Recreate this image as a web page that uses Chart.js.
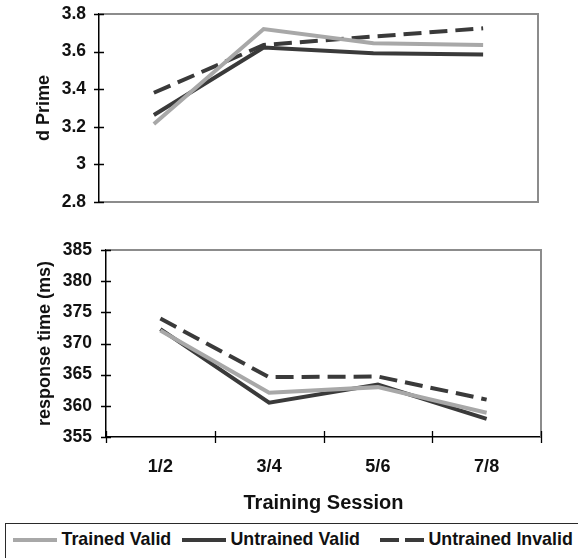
<!DOCTYPE html>
<html>
<head>
<meta charset="utf-8">
<script src="https://cdn.jsdelivr.net/npm/chart.js@4.4.1/dist/chart.umd.min.js"></script>
<style>
  html, body { margin: 0; padding: 0; background: #fff; }
  body { width: 578px; height: 558px; position: relative; overflow: hidden; font-family: "Liberation Sans", Arial, sans-serif; }
  #c1 { position: absolute; left: 0; top: 0; }
  #c2 { position: absolute; left: 0; top: 225px; }
  #legend { position: absolute; left: 5px; top: 523px; width: 590px; height: 45px; border: 1.5px solid #2a2a2a; box-sizing: border-box; }
  .item { position: absolute; top: 0; height: 31px; display: flex; align-items: center; font-weight: bold; font-size: 17.8px; color: #111; white-space: nowrap; }
  .item svg { margin-right: 5px; }
</style>
</head>
<body>
<canvas id="c1" width="578" height="225"></canvas>
<canvas id="c2" width="578" height="295"></canvas>
<div id="legend"></div>
<script>
// ---- data ----
const sessions = ["1/2", "3/4", "5/6", "7/8"];
const seriesNames = ["Trained Valid", "Untrained Valid", "Untrained Invalid"];

const dPrimeTrainedValid   = [3.215, 3.720, 3.645, 3.635];
const dPrimeUntrainedValid = [3.263, 3.622, 3.591, 3.584];
const dPrimeUntrainedInvalid = [3.381, 3.635, 3.680, 3.724];

const rtTrainedValid   = [372.1, 362.1, 363.0, 358.9];
const rtUntrainedValid = [372.3, 360.5, 363.4, 357.9];
const rtUntrainedInvalid = [374.0, 364.6, 364.7, 361.0];

const dPrimeTicks = [2.8, 3, 3.2, 3.4, 3.6, 3.8];
const rtTicks = [355, 360, 365, 370, 375, 380, 385];

// ---- styles ----
const LIGHT = "#a8a8a8", DARK = "#3a3a3a", FRAME = "#8c8c8c";
const seriesStyles = [
  { color: LIGHT, dash: [] },
  { color: DARK, dash: [] },
  { color: DARK, dash: [18, 8] }
];
const FONT = "'Liberation Sans', Arial, sans-serif";
Chart.defaults.font.family = FONT;
Chart.defaults.color = "#111";

function makeDatasets(arrs) {
  return arrs.map((d, i) => ({
    label: seriesNames[i],
    data: d,
    borderColor: seriesStyles[i].color,
    borderDash: seriesStyles[i].dash,
    borderWidth: 4,
    pointRadius: 0,
    tension: 0,
    fill: false,
    borderCapStyle: "butt"
  }));
}

const framePlugin = {
  id: "frame",
  beforeDatasetsDraw(chart, args, opts) {
    const { ctx, chartArea: a, scales: { x, y } } = chart;
    ctx.save();
    ctx.strokeStyle = FRAME;
    ctx.lineWidth = 2;
    ctx.beginPath();
    ctx.moveTo(a.left, a.top);
    ctx.lineTo(a.right, a.top);
    ctx.lineTo(a.right, a.bottom);
    ctx.stroke();
    ctx.strokeStyle = "#000";
    ctx.lineWidth = 1.3;
    ctx.beginPath();
    y.ticks.forEach((t, i) => {
      const p = Math.round(y.getPixelForTick(i)) + 0.5;
      ctx.moveTo(a.left - 5, p); ctx.lineTo(a.left + 5, p);
    });
    ctx.stroke();
    if (opts.xTicks) {
      const n = x.ticks.length;
      const half = (x.getPixelForTick(1) - x.getPixelForTick(0)) / 2;
      ctx.beginPath();
      for (let i = 0; i <= n; i++) {
        const p = Math.round((i < n ? x.getPixelForTick(i) - half : x.getPixelForTick(n - 1) + half)) + 0.5;
        ctx.moveTo(p, a.bottom - 6); ctx.lineTo(p, a.bottom + 6);
      }
      ctx.stroke();
    }
    ctx.restore();
  }
};

function yScale(ticks, title, width, titlePad, labelPad) {
  return {
    min: ticks[0], max: ticks[ticks.length - 1],
    afterBuildTicks: s => { s.ticks = ticks.map(v => ({ value: v })); },
    afterFit: s => { s.width = width; s.paddingTop = 0; s.paddingBottom = 0; },
    grid: { display: false, drawTicks: false },
    border: { display: true, color: "#000", width: 1.5 },
    ticks: { padding: labelPad, color: "#111", font: { size: 17.5, weight: "bold" }, callback: v => String(v) },
    title: { display: true, text: title, color: "#111", font: { size: 18, weight: "bold" }, padding: { top: titlePad, bottom: 0 } }
  };
}

new Chart(document.getElementById("c1"), {
  type: "line",
  data: { labels: sessions, datasets: makeDatasets([dPrimeTrainedValid, dPrimeUntrainedValid, dPrimeUntrainedInvalid]) },
  options: {
    responsive: false, animation: false,
    layout: { padding: { left: 0, right: 40, top: 14, bottom: 23 } },
    plugins: { legend: { display: false }, tooltip: { enabled: false }, frame: { xTicks: false } },
    scales: {
      x: {
        offset: true,
        grid: { display: false, drawTicks: false },
        ticks: { display: false },
        border: { display: true, color: FRAME, width: 2 },
        afterFit: s => { s.height = 0; s.paddingLeft = 0; s.paddingRight = 0; }
      },
      y: yScale(dPrimeTicks, "d Prime", 99, 33, 13)
    }
  },
  plugins: [framePlugin]
});

new Chart(document.getElementById("c2"), {
  type: "line",
  data: { labels: sessions, datasets: makeDatasets([rtTrainedValid, rtUntrainedValid, rtUntrainedInvalid]) },
  options: {
    responsive: false, animation: false,
    layout: { padding: { left: 0, right: 37, top: 25, bottom: 5 } },
    plugins: { legend: { display: false }, tooltip: { enabled: false }, frame: { xTicks: true } },
    scales: {
      x: {
        offset: true,
        grid: { display: false, drawTicks: false },
        ticks: { padding: 19, color: "#111", font: { size: 18, weight: "bold" } },
        border: { display: true, color: "#000", width: 1.5 },
        title: { display: true, text: "Training Session", color: "#111", font: { size: 20, weight: "bold" }, padding: { top: 0, bottom: 0 } },
        afterFit: s => { s.height = 78; s.paddingLeft = 0; s.paddingRight = 0; }
      },
      y: yScale(rtTicks, "response time (ms)", 106, 34, 14)
    }
  },
  plugins: [framePlugin]
});

// ---- legend (HTML) ----
const legendLefts = [6.5, 175.5, 373.5];
const legend = document.getElementById("legend");
seriesNames.forEach((name, i) => {
  const st = seriesStyles[i];
  const item = document.createElement("div");
  item.className = "item";
  item.style.left = legendLefts[i] + "px";
  const w = 44;
  item.innerHTML =
    '<svg width="' + w + '" height="6"><line x1="0" y1="3" x2="' + w + '" y2="3" stroke="' + st.color +
    '" stroke-width="4"' + (st.dash.length ? ' stroke-dasharray="19,6"' : '') + '/></svg><span></span>';
  item.querySelector("span").textContent = name;
  legend.appendChild(item);
});
</script>
</body>
</html>
